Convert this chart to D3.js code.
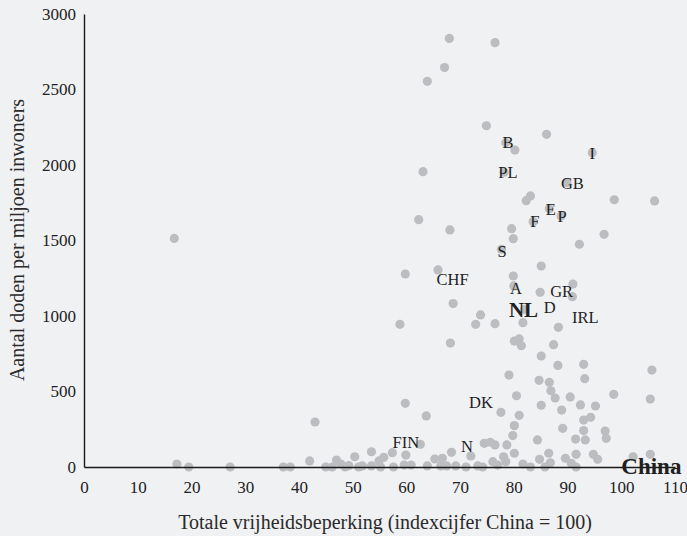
<!DOCTYPE html>
<html>
<head>
<meta charset="utf-8">
<script src="https://cdn.jsdelivr.net/npm/d3@7"></script>
<style>
  body { margin: 0; background: #f0f1f3; }
  svg { display: block; background: #f0f1f3; }
  text { font-family: "Liberation Serif", "Times New Roman", serif; }
</style>
</head>
<body>
<div id="chart"></div>
<script>
// x: totale vrijheidsbeperking (China = 100), y: doden per miljoen inwoners
const restriction = [
    68.0, 76.5, 67.1, 63.9, 74.9, 86.1, 78.5, 80.2, 94.6, 63.1, 78.2, 89.9, 83.1, 82.3, 98.7, 106.2,
    86.6, 88.8, 83.6, 62.3, 68.1, 79.6, 79.9, 96.8, 92.2, 77.7, 16.8, 85.1, 65.9, 59.8, 79.9, 80.0,
    84.9, 91.0, 90.9, 82.0, 68.7, 58.8, 73.8, 72.9, 76.5, 81.7, 88.3, 68.2, 80.1, 81.0, 81.4, 87.4,
    85.1, 88.2, 93.0, 105.7, 79.1, 84.7, 86.6, 93.2, 86.9, 98.6, 105.4, 59.8, 80.5, 85.1, 87.7, 90.5,
    92.4, 95.2, 63.7, 77.6, 81.0, 88.9, 93.0, 94.3, 80.1, 89.1, 93.0, 97.0, 79.8, 84.4, 91.5, 93.3,
    97.2, 78.7, 43.0,
    17.3, 19.5, 27.2, 37.1, 38.4, 42.0, 45.0, 46.2, 47.0, 47.8, 48.6, 49.3, 50.4, 51.1, 51.8, 53.5,
    53.5, 54.9, 55.2, 55.8, 57.4, 57.6, 59.9, 59.6, 60.9, 62.6, 63.9, 65.3, 66.7, 67.5, 68.4, 69.2,
    71.1, 72.0, 73.3, 74.5, 75.6, 76.5, 78.1, 80.1, 81.7, 84.8, 86.5, 86.8, 89.6, 91.6, 90.7, 94.8,
    95.6, 102.2, 105.4, 74.2, 76.1, 77.0, 78.5, 83.1, 85.8, 91.6, 66.4
];
const deaths = [
    2838, 2810, 2645, 2554, 2260, 2203, 2148, 2099, 2081, 1956, 1952, 1883, 1795, 1764, 1770, 1762,
    1711, 1662, 1625, 1638, 1570, 1578, 1512, 1541, 1475, 1442, 1514, 1331, 1305, 1278, 1265, 1199,
    1157, 1212, 1128, 1044, 1082, 945, 1007, 945, 949, 956, 925, 821, 834, 848, 803, 810,
    735, 673, 680, 642, 609, 574, 561, 585, 505, 481, 450, 422, 472, 409, 457, 464,
    411, 404, 338, 362, 342, 377, 311, 329, 274, 256, 241, 238, 208, 179, 185, 179,
    190, 146, 298,
    20, 0, 0, 0, 0, 40, 0, 0, 46, 20, 0, 9, 68, 0, 7, 101,
    7, 40, 0, 64, 95, 0, 79, 13, 13, 150, 7, 53, 58, 7, 97, 7,
    0, 73, 7, 157, 164, 146, 68, 91, 20, 51, 91, 28, 58, 84, 25, 84,
    51, 68, 84, 0, 35, 13, 35, 0, 0, 0, 7
];

// landcodes
const labelNames = ["B", "PL", "I", "GB", "E", "P", "F", "S", "CHF", "A", "GR", "NL", "D", "IRL", "DK", "FIN", "N", "China"];
const labelX = [78.9, 78.9, 94.6, 90.9, 86.9, 89.0, 83.9, 77.8, 68.6, 80.4, 88.9, 81.8, 86.7, 93.3, 73.9, 59.9, 71.3, 105.6];
const labelY = [2148, 1949, 2081, 1879, 1707, 1662, 1625, 1430, 1243, 1182, 1166, 1040, 1055, 991, 426, 164, 139, 7];
const bigLabels = ["NL", "China"];

const xTicks = [0, 10, 20, 30, 40, 50, 60, 70, 80, 90, 100, 110];
const yTicks = [0, 500, 1000, 1500, 2000, 2500, 3000];

const width = 687;
const height = 536;

const svg = d3.select("#chart")
    .append("svg")
    .attr("width", width)
    .attr("height", height);

const x = d3.scaleLinear().domain([0, 110]).range([84, 675]);
const y = d3.scaleLinear().domain([0, 3000]).range([467, 14]);

const points = restriction.map((r, i) => ({ x: r, y: deaths[i] }));

svg.append("g")
    .selectAll("circle")
    .data(points)
    .join("circle")
    .attr("cx", d => x(d.x))
    .attr("cy", d => y(d.y))
    .attr("r", 4.6)
    .attr("fill", "#bcbdc0");

// axes
const xAxis = svg.append("g")
    .attr("transform", `translate(0,${y(0)})`)
    .call(d3.axisBottom(x).tickValues(xTicks).tickFormat(d3.format("d"))
        .tickSize(0).tickSizeOuter(0).tickPadding(14));

const yAxis = svg.append("g")
    .attr("transform", `translate(${x(0)},0)`)
    .call(d3.axisLeft(y).tickValues(yTicks).tickFormat(d3.format("d"))
        .tickSize(0).tickSizeOuter(0).tickPadding(8));

[xAxis, yAxis].forEach(g => {
    g.attr("font-family", "Liberation Serif").attr("font-size", 17);
    g.select(".domain").attr("stroke", "#1a1a1a").attr("stroke-width", 1.4);
    g.selectAll("text").attr("fill", "#222");
});

// country labels
const labels = labelNames.map((n, i) => ({ name: n, x: labelX[i], y: labelY[i] }));

svg.append("g")
    .selectAll("text")
    .data(labels)
    .join("text")
    .attr("x", d => x(d.x))
    .attr("y", d => y(d.y))
    .attr("dy", "0.35em")
    .attr("text-anchor", "middle")
    .attr("fill", "#1f1f1f")
    .style("font-size", d => d.name === "China" ? "23px" : d.name === "NL" ? "21px" : "16.5px")
    .style("font-weight", d => bigLabels.includes(d.name) ? "bold" : "normal")
    .text(d => d.name);

// axis titles
svg.append("text")
    .attr("x", 385)
    .attr("y", 529)
    .attr("text-anchor", "middle")
    .attr("fill", "#2a2a2a")
    .style("font-size", "20px")
    .text("Totale vrijheidsbeperking (indexcijfer China = 100)");

svg.append("text")
    .attr("transform", "translate(24,240) rotate(-90)")
    .attr("text-anchor", "middle")
    .attr("fill", "#2a2a2a")
    .style("font-size", "20px")
    .text("Aantal doden per miljoen inwoners");
</script>
</body>
</html>
